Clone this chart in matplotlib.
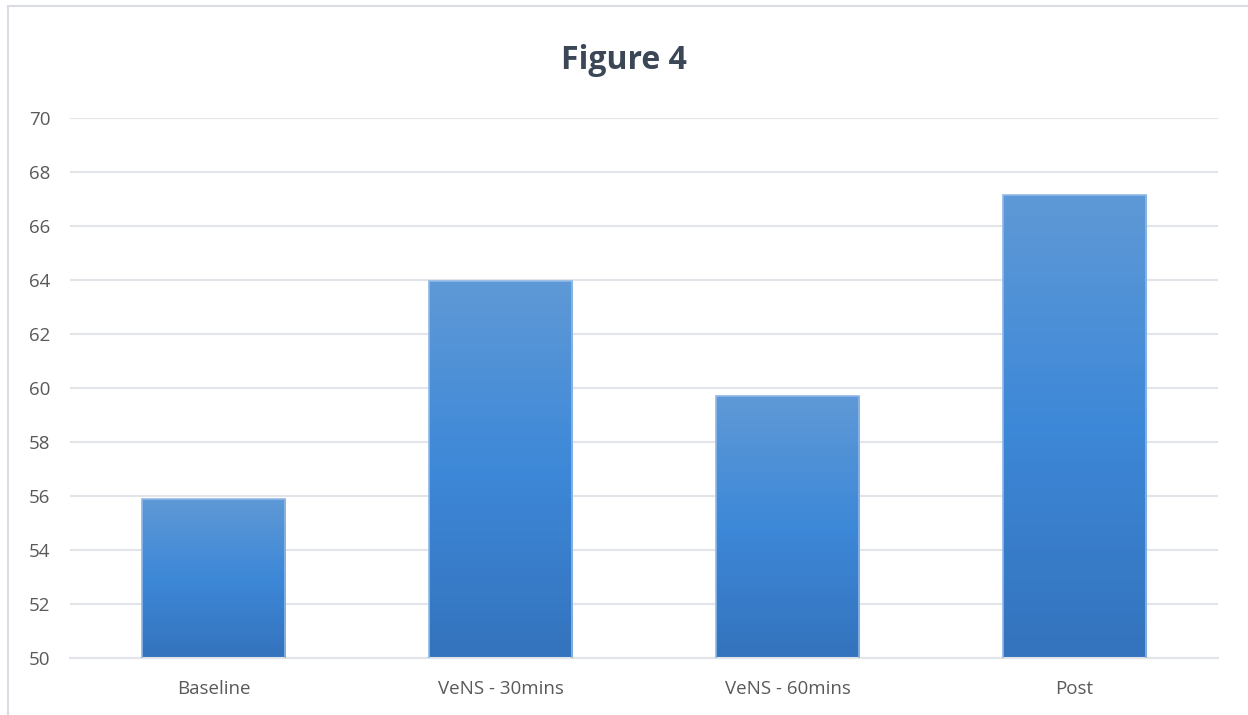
import numpy as np
import matplotlib.pyplot as plt
from matplotlib.patches import Rectangle
from matplotlib.colors import LinearSegmentedColormap

categories = ['Baseline', 'VeNS - 30mins', 'VeNS - 60mins', 'Post']
values = [55.9, 63.95, 59.7, 67.15]
yticks = list(range(50, 72, 2))

plt.rcParams['font.family'] = ['Open Sans', 'DejaVu Sans']

fig = plt.figure(figsize=(12.48, 7.15), dpi=100)
ax = fig.add_axes([0.0561, 0.0797, 0.9199, 0.7553])

# outer chart frame
fig.patches.append(Rectangle((8 / 1248, -0.1), 1.2, 1.1 - 6 / 715,
                             transform=fig.transFigure, fill=False,
                             edgecolor='#d9dde3', linewidth=1.5))

# gradient blue bars
cmap = LinearSegmentedColormap.from_list('bar', ['#3473bd', '#3d88d8', '#5f99d6'])
grad = np.linspace(0, 1, 256).reshape(-1, 1)
width = 0.5
bars = ax.bar(range(len(categories)), values, width=width, bottom=0,
              color='none', edgecolor='#8fb8e8', linewidth=1.2, zorder=3)
for bar, v in zip(bars, values):
    x0 = bar.get_x()
    im = ax.imshow(grad, cmap=cmap, aspect='auto', origin='lower',
                   extent=[x0, x0 + width, 50, v], zorder=2)
    im.set_clip_path(bar)

ax.set_xlim(-0.5, len(categories) - 0.5)
ax.set_ylim(50, 70)
ax.set_yticks(yticks)
ax.set_xticks(range(len(categories)))
ax.set_xticklabels(categories)
ax.grid(axis='y', color='#e1e4e9', linewidth=1.5, zorder=0)
ax.set_axisbelow(True)
for s in ['top', 'right', 'left']:
    ax.spines[s].set_visible(False)
ax.spines['bottom'].set_color('#e1e4e9')
ax.spines['bottom'].set_linewidth(1.5)
ax.tick_params(length=0, labelsize=13.5, colors='#595959')
ax.tick_params(axis='y', pad=14)
ax.tick_params(axis='x', pad=16)

fig.text(0.5, 0.915, 'Figure 4', ha='center', va='center', fontsize=23,
         fontweight='bold', color='#3b4756')

fig.savefig('out.png', dpi=100)
